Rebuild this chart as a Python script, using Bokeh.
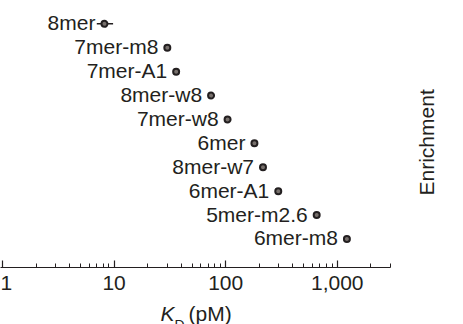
import math
from bokeh.plotting import figure
from bokeh.models import ColumnDataSource, NumeralTickFormatter, LogTicker, Range1d
from bokeh.layouts import column, row
from bokeh.core.properties import value
from bokeh.embed import file_html
from bokeh.resources import INLINE

# ---- data ----
sites = ["8mer", "7mer-m8", "7mer-A1", "8mer-w8", "7mer-w8",
         "6mer", "8mer-w7", "6mer-A1", "5mer-m2.6", "6mer-m8"]
kd_pm = [8.2, 30, 36, 74, 104, 181, 216, 296, 654, 1220]
kd_low = [7.0, 28.8, 34.6, 71.5, 100, 175, 209, 287, 635, 1185]
kd_high = [9.8, 31.2, 37.4, 76.5, 108, 187, 223, 305, 673, 1255]
row_pos = [9, 8, 7, 6, 5, 4, 3, 2, 1, 0]
x_limits = (0.96, 3000)
x_title = ["K", "D", "(pM)"]
side_title = "Enrichment"

INK = "#231f20"
FONT = "Liberation Sans"

src = ColumnDataSource(dict(site=sites, kd=kd_pm, lo=kd_low, hi=kd_high, row=row_pos))

# ---- main dot plot ----
p = figure(width=408, height=303, frame_width=390, frame_height=267,
           x_axis_type="log", x_range=Range1d(*x_limits),
           y_range=Range1d(-1.192, 9.975),
           y_axis_location=None, output_backend="svg", toolbar_location=None,
           min_border_left=0, min_border_right=18, min_border_top=0, min_border_bottom=36)
p.outline_line_color = None
p.grid.visible = False

ax = p.xaxis[0]
ax.ticker = LogTicker(num_minor_ticks=10)
ax.formatter = NumeralTickFormatter(format="0,0")
ax.axis_line_color = INK
ax.axis_line_width = 1.2
ax.major_tick_line_color = INK
ax.minor_tick_line_color = INK
ax.major_tick_line_width = 1.2
ax.minor_tick_line_width = 1.0
ax.major_tick_in = 7
ax.major_tick_out = 0
ax.minor_tick_in = 4
ax.minor_tick_out = 0
ax.major_label_text_font = FONT
ax.major_label_text_font_size = "21px"
ax.major_label_text_color = INK
ax.major_label_standoff = 8

p.segment(x0="lo", y0="row", x1="hi", y1="row", source=src, line_color=INK, line_width=1.5)
p.scatter(x="kd", y="row", source=src, size=6, fill_color="#77706c",
          line_color=INK, line_width=2)
p.text(x="kd", y="row", text="site", source=src, x_offset=-9, y_offset=-1,
       text_align="right", text_baseline="middle", text_font=value(FONT),
       text_font_size="21px", text_color=INK)


def text_panel(w, h):
    f = figure(width=w, height=h, x_range=Range1d(0, w), y_range=Range1d(h, 0),
               output_backend="svg", toolbar_location=None,
               x_axis_location=None, y_axis_location=None, min_border=0)
    f.outline_line_color = None
    f.grid.visible = False
    return f


# neighbouring panel's axis title, partly visible at the right
side = text_panel(55, 303)
side.text(x=[18], y=[161], text=[side_title], angle=math.pi / 2,
          text_align="center", text_baseline="middle", text_font=value(FONT),
          text_font_size="21px", text_color=INK)

# x-axis title  K_D (pM)
bottom = text_panel(463, 21)
bottom.text(x=[160], y=[9.5], text=[x_title[0]], text_align="left", text_baseline="middle",
            text_font=value(FONT), text_font_style="italic", text_font_size="21px",
            text_color=INK)
bottom.text(x=[174], y=[21], text=[x_title[1]], text_align="left", text_baseline="middle",
            text_font=value(FONT), text_font_size="14px", text_color=INK)
bottom.text(x=[188], y=[9.5], text=[x_title[2]], text_align="left", text_baseline="middle",
            text_font=value(FONT), text_font_size="21px", text_color=INK)

layout = column(row(p, side), bottom)
open("out.html", "w").write(file_html(layout, INLINE))
